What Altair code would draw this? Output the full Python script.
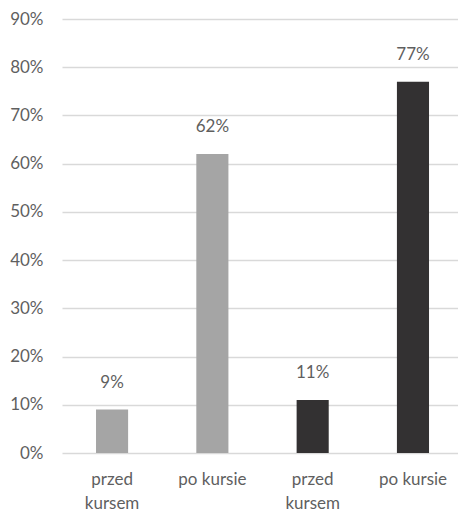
import altair as alt
import pandas as pd

keys = ["a", "b", "c", "d"]
labels = ["przed\nkursem", "po kursie", "przed\nkursem", "po kursie"]
values = [0.09, 0.62, 0.11, 0.77]
colors = ["#A5A5A5", "#A5A5A5", "#333132", "#333132"]
value_text = ["9%", "62%", "11%", "77%"]

df = pd.DataFrame({"key": keys, "label": labels, "value": values,
                   "color": colors, "txt": value_text})

FONT = "Lato"
GREY = "#5f5f5f"
FS = 17

x = alt.X("key:N", sort=keys,
          scale=alt.Scale(paddingInner=0.68, paddingOuter=0.314, align=0.54),
          axis=None)
y = alt.Y("value:Q", scale=alt.Scale(domain=[0, 0.9], nice=False),
          axis=alt.Axis(title=None, format=".0%", values=[i / 10 for i in range(10)],
                        domain=False, ticks=False, labelFont=FONT, labelFontSize=FS,
                        labelColor=GREY, labelPadding=19, gridColor="#D9D9D9", gridWidth=1.3))

base = alt.Chart(df).encode(x=x)
bars = base.mark_bar().encode(y=y, color=alt.Color("color:N", scale=None))
text = base.mark_text(baseline="bottom", dy=-18, font=FONT, fontSize=FS, color=GREY).encode(
    y="value:Q", text="txt:N")
xlabels = base.mark_text(baseline="top", font=FONT, fontSize=FS, color=GREY,
                         lineBreak="\n", lineHeight=24).encode(
    y=alt.value(453), text="label:N")

chart = (bars + text + xlabels).properties(
    width=396, height=434,
    background="white",
    autosize=alt.AutoSizeParams(type="none"),
    padding={"left": 62, "top": 19, "right": 0, "bottom": 59},
).configure_view(stroke=None)

chart.save("out.html", embed_options={"renderer": "svg", "actions": False})
